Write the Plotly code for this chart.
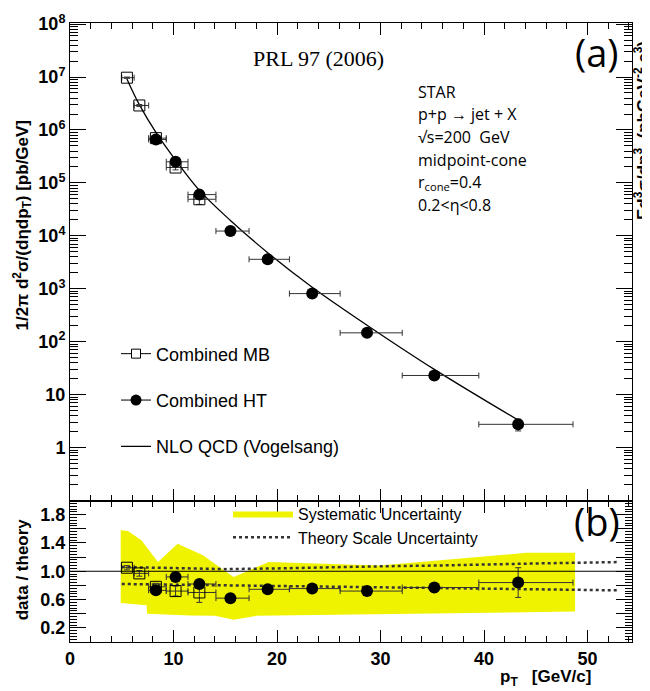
import plotly.graph_objects as go

# ---------------- data ----------------
mb_pt = [5.5, 6.7, 8.3, 10.2, 12.5]
mb_lo = [5.0, 6.2, 7.6, 9.3, 11.4]
mb_hi = [6.2, 7.6, 9.3, 11.4, 14.1]
mb_xsec = [9.7e6, 2.9e6, 7.0e5, 1.95e5, 4.9e4]
mb_ratio = [1.05, 0.97, 0.78, 0.72, 0.70]
mb_ratio_err = [0.03, 0.04, 0.05, 0.07, 0.14]

ht_pt = [8.3, 10.2, 12.5, 15.5, 19.1, 23.4, 28.7, 35.2, 43.3]
ht_lo = [7.6, 9.3, 11.4, 14.1, 17.3, 21.2, 26.1, 32.1, 39.5]
ht_hi = [9.3, 11.4, 14.1, 17.3, 21.2, 26.1, 32.1, 39.5, 48.6]
ht_xsec = [6.6e5, 2.5e5, 6.0e4, 1.23e4, 3.6e3, 8.1e2, 147, 23, 2.75]
ht_ratio = [0.73, 0.92, 0.82, 0.62, 0.745, 0.755, 0.72, 0.77, 0.84]
ht_ratio_err = [0.05, 0.04, 0.04, 0.03, 0.03, 0.03, 0.04, 0.06, 0.21]

nlo_pt = [5.5, 6.7, 8.3, 10.2, 12.5, 15.5, 19.1, 23.4, 28.7, 35.2, 43.3]
nlo_xsec = [9.2e6, 3.0e6, 9.0e5, 2.7e5, 7.2e4, 1.95e4, 4.8e3, 1.07e3, 205, 30, 3.3]

sys_up_pt = [4.9, 5.6, 6.9, 8.5, 10.4, 12.8, 15.8, 19.2, 29.9, 44.1, 48.8]
sys_up = [1.58, 1.57, 1.44, 1.13, 1.39, 1.23, 0.92, 1.13, 1.08, 1.26, 1.26]
sys_lo_pt = [4.9, 7.4, 7.45, 11.6, 14.0, 15.8, 18.0, 48.8]
sys_lo = [0.55, 0.52, 0.40, 0.375, 0.37, 0.315, 0.37, 0.43]

scale_pt = [5.0, 10, 15, 20, 25, 30, 35, 40, 45, 53]
scale_up = [1.06, 1.04, 1.03, 1.04, 1.06, 1.07, 1.08, 1.10, 1.11, 1.13]
scale_lo = [0.82, 0.81, 0.80, 0.80, 0.79, 0.78, 0.77, 0.76, 0.75, 0.73]

y_tickvals = [1, 10, 1e2, 1e3, 1e4, 1e5, 1e6, 1e7, 1e8]
y_ticktext = ["1", "10", "10<sup>2</sup>", "10<sup>3</sup>", "10<sup>4</sup>",
              "10<sup>5</sup>", "10<sup>6</sup>", "10<sup>7</sup>", "10<sup>8</sup>"]
r_tickvals = [0.2, 0.4, 0.6, 0.8, 1.0, 1.2, 1.4, 1.6, 1.8]
r_ticktext = ["0.2", "", "0.6", "", "1.0", "", "1.4", "", "1.8"]

info_lines = ["STAR", "p+p → jet + X", "√s=200  GeV", "midpoint-cone",
              "r<sub>cone</sub>=0.4", "0.2&lt;η&lt;0.8"]

# ---------------- figure geometry helpers ----------------
# the page body has an 8px margin, so the figure is made 8px smaller
OFF = 8
W, H = 650 - OFF, 691 - OFF
X0, X1, Y0, Y1 = 70, 632, 12, 642          # plot area in page pixels
L, R, T, B = X0 - OFF, 650 - X1, Y0 - OFF, 691 - Y1
PW, PH = X1 - X0, Y1 - Y0


def px(xp):
    return (xp - X0) / PW


def py(yp):
    return (Y1 - yp) / PH


split = py(498)
ERR = "#333333"
AX = dict(showline=True, linecolor="black", linewidth=1, mirror="allticks",
          ticks="inside", tickcolor="black", zeroline=False, showgrid=False)

fig = go.Figure()

# ---------- top panel ----------
fig.add_trace(go.Scatter(
    x=nlo_pt, y=nlo_xsec, mode="lines", line=dict(color="black", width=1.3, shape="spline"),
    name="NLO QCD (Vogelsang)", legendgroup="c", legendrank=3, legend="legend",
    xaxis="x", yaxis="y"))

fig.add_trace(go.Scatter(
    x=mb_pt, y=mb_xsec, mode="markers", showlegend=False,
    marker=dict(symbol="square-open", size=11, color="black", line=dict(width=1)),
    error_x=dict(type="data", symmetric=False,
                 array=[h - p for h, p in zip(mb_hi, mb_pt)],
                 arrayminus=[p - lo for p, lo in zip(mb_pt, mb_lo)],
                 color=ERR, thickness=1, width=3),
    error_y=dict(type="data", array=[v * e / r for v, e, r in zip(mb_xsec, mb_ratio_err, mb_ratio)],
                 color=ERR, thickness=1, width=3),
    xaxis="x", yaxis="y"))

fig.add_trace(go.Scatter(
    x=ht_pt, y=ht_xsec, mode="markers", showlegend=False,
    marker=dict(symbol="circle", size=12, color="black"),
    error_x=dict(type="data", symmetric=False,
                 array=[h - p for h, p in zip(ht_hi, ht_pt)],
                 arrayminus=[p - lo for p, lo in zip(ht_pt, ht_lo)],
                 color=ERR, thickness=1, width=3),
    error_y=dict(type="data", array=[v * e / r for v, e, r in zip(ht_xsec, ht_ratio_err, ht_ratio)],
                 color=ERR, thickness=1, width=3),
    xaxis="x", yaxis="y"))

# legend-only entries
fig.add_trace(go.Scatter(x=[None], y=[None], mode="lines+markers", name="Combined MB",
                         line=dict(color="black", width=1),
                         marker=dict(symbol="square", size=9, color="white", line=dict(color="black", width=1)),
                         legendgroup="a", legendrank=1, legend="legend", xaxis="x", yaxis="y"))
fig.add_trace(go.Scatter(x=[None], y=[None], mode="lines+markers", name="Combined HT",
                         line=dict(color="black", width=1),
                         marker=dict(symbol="circle", size=11, color="black"),
                         legendgroup="b", legendrank=2, legend="legend", xaxis="x", yaxis="y"))

# ---------- bottom panel ----------
fig.add_trace(go.Scatter(
    x=sys_up_pt + sys_lo_pt[::-1], y=sys_up + sys_lo[::-1], fill="toself",
    fillcolor="rgb(240,243,0)", line=dict(width=0), mode="lines",
    name="Systematic Uncertainty", legend="legend2", legendrank=1, xaxis="x2", yaxis="y2"))
fig.add_trace(go.Scatter(
    x=scale_pt, y=scale_up, mode="lines", line=dict(color="#333333", width=2.5, dash="dot"),
    name="Theory Scale Uncertainty", legend="legend2", legendrank=2, xaxis="x2", yaxis="y2"))
fig.add_trace(go.Scatter(
    x=scale_pt, y=scale_lo, mode="lines", line=dict(color="#333333", width=2.5, dash="dot"),
    showlegend=False, xaxis="x2", yaxis="y2"))

fig.add_trace(go.Scatter(
    x=mb_pt, y=mb_ratio, mode="markers", showlegend=False,
    marker=dict(symbol="square-open", size=11, color="black", line=dict(width=1)),
    error_x=dict(type="data", symmetric=False,
                 array=[h - p for h, p in zip(mb_hi, mb_pt)],
                 arrayminus=[p - lo for p, lo in zip(mb_pt, mb_lo)],
                 color=ERR, thickness=1, width=3),
    error_y=dict(type="data", array=mb_ratio_err, color=ERR, thickness=1, width=3),
    xaxis="x2", yaxis="y2"))
fig.add_trace(go.Scatter(
    x=ht_pt, y=ht_ratio, mode="markers", showlegend=False,
    marker=dict(symbol="circle", size=12, color="black"),
    error_x=dict(type="data", symmetric=False,
                 array=[h - p for h, p in zip(ht_hi, ht_pt)],
                 arrayminus=[p - lo for p, lo in zip(ht_pt, ht_lo)],
                 color=ERR, thickness=1, width=3),
    error_y=dict(type="data", array=ht_ratio_err, color=ERR, thickness=1, width=3),
    xaxis="x2", yaxis="y2"))

fig.add_shape(type="line", xref="x2 domain", x0=0, x1=1, yref="y2", y0=1, y1=1,
              line=dict(color="black", width=1))

tickfont = dict(family="Liberation Sans", size=18, color="black", weight="bold")

fig.update_layout(
    width=W, height=H, margin=dict(l=L, r=R, t=T, b=B),
    paper_bgcolor="white", plot_bgcolor="white",
    font=dict(family="Liberation Sans", color="black"),
    xaxis=dict(domain=[0, 1], anchor="y", range=[0, 54.3], matches="x2",
               tick0=0, dtick=10, ticklen=12, showticklabels=False,
               minor=dict(ticks="inside", dtick=2, ticklen=6, tickcolor="black"), **AX),
    yaxis=dict(domain=[split, 1], anchor="x", type="log", range=[-1, 8.02],
               tickmode="array", tickvals=y_tickvals, ticktext=y_ticktext, ticklen=16,
               tickfont=tickfont, ticklabeloverflow="allow",
               minor=dict(ticks="inside", dtick="D1", ticklen=8, tickcolor="black"), **AX),
    xaxis2=dict(domain=[0, 1], anchor="y2", range=[0, 54.3],
                tick0=0, dtick=10, ticklen=12, tickfont=tickfont,
                minor=dict(ticks="inside", dtick=2, ticklen=6, tickcolor="black"), **AX),
    yaxis2=dict(domain=[0, split], anchor="x2", range=[0, 2.0],
                tickvals=r_tickvals, ticktext=r_ticktext, ticklen=16, tickfont=tickfont,
                minor=dict(ticks="inside", dtick=0.04, ticklen=7, tickcolor="black"), **AX),
    legend=dict(x=px(116), y=py(330), xanchor="left", yanchor="top",
                font=dict(family="Liberation Sans", size=18, color="black"),
                bgcolor="rgba(0,0,0,0)", tracegroupgap=20, itemwidth=30,
                traceorder="grouped"),
    legend2=dict(x=px(228), y=py(494), xanchor="left", yanchor="top",
                 font=dict(family="Liberation Sans", size=16, color="black"),
                 bgcolor="rgba(0,0,0,0)", itemwidth=60, tracegroupgap=0),
)

ann = []


def add_text(xp, yp, text, font, angle=0, xanchor="center"):
    ann.append(dict(x=px(xp), y=py(yp), text=text, showarrow=False, textangle=angle,
                    xanchor=xanchor, yanchor="middle", xref="paper", yref="paper", font=font))


add_text(318, 48, "PRL 97 (2006)", dict(family="Liberation Serif", size=22, color="black"))
add_text(597, 42, "(a)", dict(family="Open Sans", size=38, color="black"))
add_text(597, 519, "(b)", dict(family="Open Sans", size=38, color="black"))
for i, line in enumerate(info_lines):
    add_text(416, 82 + 23 * i, line, dict(family="Open Sans", size=16, color="black"), xanchor="left")
add_text(22, 218, "1/2π d<sup>2</sup>σ/(dηdp<sub>T</sub>) [pb/GeV]",
         dict(family="Liberation Sans", size=17, color="black", weight="bold"), angle=-90)
add_text(22, 568, "data / theory",
         dict(family="Liberation Sans", size=17, color="black", weight="bold"), angle=-90)
add_text(545, 679, "p<sub>T</sub>   [GeV/c]",
         dict(family="Liberation Sans", size=17, color="black", weight="bold"))
add_text(642, 122, "Ed<sup>3</sup>σ/dp<sup>3</sup>  (pbGeV<sup>-2</sup> c<sup>3</sup>)",
         dict(family="Liberation Sans", size=17, color="black", weight="bold"), angle=-90)
fig.update_layout(annotations=ann)

fig.write_html("out.html")
